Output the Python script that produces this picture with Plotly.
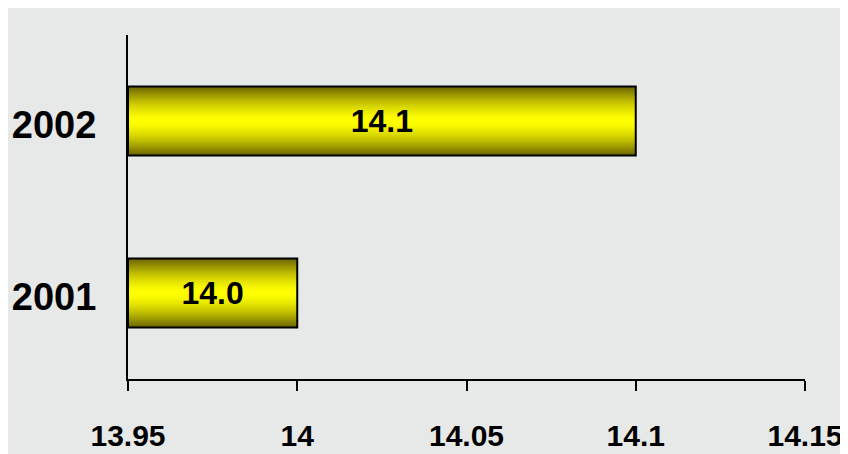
import plotly.graph_objects as go

# Data
years = ["2001", "2002"]
values = [14.0, 14.1]
value_labels = ["14.0", "14.1"]
x_tick_vals = [13.95, 14.0, 14.05, 14.1, 14.15]
x_tick_text = ["13.95", "14", "14.05", "14.1", "14.15"]
axis_min = 13.95
axis_max = 14.15

FONT = "Liberation Sans, Arial, sans-serif"
BAR_W = 0.40

lengths = [v - axis_min for v in values]

fig = go.Figure()

# Layered bars to simulate vertical gradient (olive edges -> bright yellow centre)
N = 28
edge = (108, 102, 0)
centre = (255, 255, 0)
for i in range(N):
    t = i / (N - 1)
    f = 1 - (1 - t) ** 1.5
    r = int(edge[0] + (centre[0] - edge[0]) * f)
    g = int(edge[1] + (centre[1] - edge[1]) * f)
    w = BAR_W * (1 - i / N)
    fig.add_trace(go.Bar(
        y=years, x=lengths, base=axis_min, orientation="h", width=w,
        marker=dict(color=f"rgb({r},{g},0)", line=dict(width=0)),
        hoverinfo="skip", showlegend=False,
    ))

# Outline + labels
fig.add_trace(go.Bar(
    y=years, x=lengths, base=axis_min, orientation="h", width=BAR_W,
    marker=dict(color="rgba(0,0,0,0)", line=dict(color="black", width=2)),
    text=value_labels, textposition="inside", insidetextanchor="middle",
    textfont=dict(family=FONT, size=32, color="black", weight="bold"),
    constraintext="none", showlegend=False, hovertext=[str(v) for v in values],
    hoverinfo="text",
))

fig.update_layout(
    width=840, height=446,
    margin=dict(l=120, r=43, t=27, b=75),
    paper_bgcolor="#e7e9e9", plot_bgcolor="rgba(0,0,0,0)",
    barmode="overlay",
    xaxis=dict(
        range=[axis_min, axis_max], tickvals=x_tick_vals, ticktext=x_tick_text,
        showgrid=False, zeroline=False, automargin=False,
        showline=True, linecolor="black", linewidth=2,
        ticks="outside", ticklen=10, tickwidth=2, tickcolor="black",
        tickfont=dict(family=FONT, size=30, color="black", weight="bold"),
        ticklabelstandoff=19,
    ),
    yaxis=dict(
        type="category", categoryorder="array", categoryarray=years,
        range=[-0.5, 1.5], automargin=False,
        showgrid=False, zeroline=False,
        showline=True, linecolor="black", linewidth=2,
        ticks="", tickfont=dict(family=FONT, size=38, color="black", weight="bold"),
        ticklabelstandoff=22, ticklabelshift=4,
    ),
)

fig.write_html("out.html")
